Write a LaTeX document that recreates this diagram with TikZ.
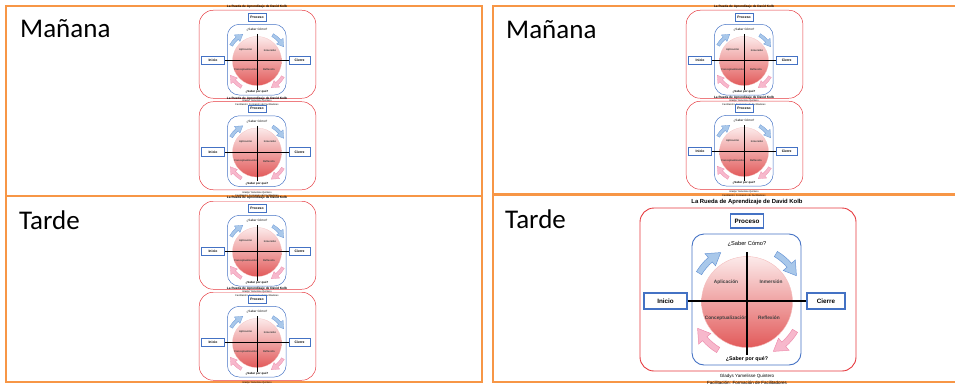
\documentclass[tikz,border=0pt]{standalone}
\usepackage{fontspec}
\setmainfont{Carlito}
\newfontfamily\kolbfont{Liberation Sans}
\usetikzlibrary{arrows.meta}

\definecolor{slideorange}{HTML}{F79646}
\definecolor{wheelred}{HTML}{E5383D}
\definecolor{wheelblue}{HTML}{4472C4}
\definecolor{arrowbluefill}{HTML}{A9C8EA}
\definecolor{arrowblueedge}{HTML}{6A97D6}
\definecolor{arrowpinkfill}{HTML}{F7B8CC}
\definecolor{arrowpinkedge}{HTML}{EE8FAE}
\definecolor{balltop}{HTML}{FCEAEA}
\definecolor{ballbottom}{HTML}{E25A5A}

% one copy of the wheel: name, x, y, scale
\newcommand{\kolbwheel}[4]{%
  \begin{scope}[shift={(#2,#3)}, scale=#4, transform shape]
    % frames
    \draw[wheelred, line width=#4*0.9pt, rounded corners=14] (-107,94) rectangle (109,-69);
    \draw[wheelblue, line width=#4*0.9pt, rounded corners=12] (-55,68) rectangle (54,-63);
    \node[titletext] (#1-title) at (0,100) {La Rueda de Aprendizaje de David Kolb};
    \node[stagebox, line width=#4*1.2pt, minimum width=33, minimum height=14] (#1-proceso) at (0,81) {Proceso};

    % ball
    \shade[top color=balltop, bottom color=ballbottom] (0,0) circle (45.5);
    \draw[ballbottom!40, line width=#4*0.4pt] (0,0) circle (45.5);

    % cycle arrows
    \foreach \ang/\tone in {135/blue, 45/blue, -45/pink, -135/pink}
      \filldraw[fill=arrow\tone fill, draw=arrow\tone edge, line width=#4*0.5pt]
        (\ang+14:59) arc[start angle=\ang+14, end angle=\ang-4, radius=59]
        -- (\ang-4:64) -- (\ang-17:56) -- (\ang-4:48) -- (\ang-4:53)
        arc[start angle=\ang-4, end angle=\ang+14, radius=53] -- cycle;

    % quadrants
    \node[quadtext] (#1-aplicacion) at (-21,20) {Aplicación};
    \node[quadtext] (#1-inmersion) at (24,20) {Inmersión};
    \node[quadtext] (#1-concepto) at (-21,-16) {Conceptualización};
    \node[quadtext] (#1-reflexion) at (22,-16) {Reflexión};

    % questions
    \node[asktext] (#1-como) at (0,58) {¿Saber Cómo?};
    \node[asktext, font=\kolbfont\bfseries\fontsize{5.3}{6}\selectfont] (#1-porque) at (0,-57) {¿Saber por qué?};

    % start and end
    \node[stagebox, line width=#4*1.2pt, minimum width=43, minimum height=16] (#1-inicio) at (-81.5,1) {Inicio};
    \node[stagebox, line width=#4*1.2pt, minimum width=38, minimum height=16] (#1-cierre) at (79,1) {Cierre};

    % axes of the wheel
    \coordinate (#1-top) at (0,50);
    \coordinate (#1-bottom) at (0,-53);
    \draw[line width=#4*1.3pt] (#1-inicio) -- (#1-cierre);
    \draw[line width=#4*1.3pt] (#1-top) -- (#1-bottom);

    % credits
    \node[credittext] (#1-author) at (0,-74.5) {Gladys Yamelisse Quintero};
    \node[credittext] (#1-course) at (0,-80.5) {Facilitación: Formación de Facilitadores};
  \end{scope}}

\begin{document}
\begin{tikzpicture}[x=1pt, y=1pt,
    panel/.style={draw=slideorange, line width=2.6pt},
    daylabel/.style={anchor=base west, inner sep=0pt, font=\fontsize{27}{32}\selectfont},
    titletext/.style={inner sep=0pt, font=\kolbfont\bfseries\fontsize{5.9}{7}\selectfont},
    stagebox/.style={draw=wheelblue, fill=white, inner sep=0pt, font=\kolbfont\bfseries\fontsize{6.3}{7}\selectfont},
    quadtext/.style={inner sep=0pt, text=black!75, font=\kolbfont\bfseries\fontsize{4.8}{5.5}\selectfont},
    asktext/.style={inner sep=0pt, font=\kolbfont\fontsize{5.7}{6.5}\selectfont},
    credittext/.style={inner sep=0pt, font=\kolbfont\fontsize{4.5}{5}\selectfont}]
  \useasboundingbox (0,0) rectangle (955,384);

  % Panels
  \draw[panel] (6,378) rectangle (482,2);
  \draw[panel] (6,188) -- (482,188);
  \draw[panel] (962,378) -- (493,378) -- (493,2) -- (962,2);
  \draw[panel] (493,189.5) -- (962,189.5);

  % Day names
  \node[daylabel] (morningleft) at (20,346.5) {Mañana};
  \node[daylabel] (afternoonleft) at (19,155) {Tarde};
  \node[daylabel] (morningright) at (506,346) {Mañana};
  \node[daylabel] (afternoonright) at (505,156) {Tarde};

  % Small wheels
  \kolbwheel{wa}{257}{323}{0.54}
  \kolbwheel{wb}{257}{231.5}{0.54}
  \kolbwheel{wc}{257}{132}{0.54}
  \kolbwheel{wd}{257}{41}{0.54}
  \kolbwheel{we}{744}{323}{0.54}
  \kolbwheel{wf}{744}{232}{0.54}

  % Large wheel
  \kolbwheel{wg}{747}{82}{1}
\end{tikzpicture}
\end{document}
